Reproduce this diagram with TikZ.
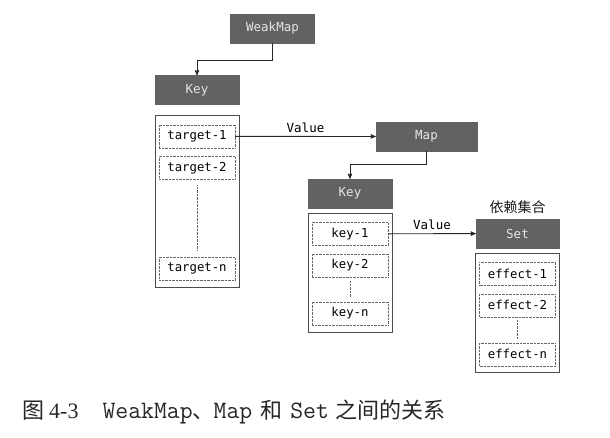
\documentclass[tikz,border=0pt]{standalone}
\usepackage{fontspec}
\usepackage{tikz}
\usetikzlibrary{
        arrows,
        positioning
    }
\newfontfamily\monofam{DejaVu Sans Mono}
\newfontfamily\capserif{Liberation Serif}
\newfontfamily\cjk{Noto Sans CJK SC}
\definecolor{boxgray}{RGB}{98,98,98}
\tikzset{>=stealth',auto,node distance=8pt}
\tikzset{head box/.style={draw=boxgray,fill=boxgray,text=white!90!black,minimum width=84pt,minimum height=29pt,inner sep=0pt,font=\monofam\fontsize{12.5pt}{14pt}\selectfont}}
\tikzset{list box/.style={draw=black!70,line width=0.8pt,minimum width=84pt,inner sep=0pt}}
\tikzset{item box/.style={draw=black!60,densely dotted,minimum width=76pt,minimum height=23pt,inner sep=0pt,text=black,font=\monofam\fontsize{12.3pt}{14pt}\selectfont}}
\tikzset{link/.style={->,draw=black!85,line width=0.9pt}}
\tikzset{gap/.style={draw=black!60,densely dotted}}

\begin{document}
\begin{tikzpicture}[x=1pt,y=1pt]
            \useasboundingbox (0,0) rectangle (610,-438);
            % WeakMap side
            \node[head box] (weakmap) at (272.5,-28.5) {WeakMap};
            \node[head box] (key) at (197,-90) {Key};
            \node[list box,minimum height=172pt] (targets) [below=10pt of key] {};
            \node[item box] (t1) [below=10pt of targets.north] {target-1};
            \node[item box] (t2) [below=of t1] {target-2};
            \node[item box] (tn) [above=7pt of targets.south] {target-n};
            % Map side
            \node[head box,minimum width=101pt] (map) at (426.5,-136.5) {Map};
            \node[head box] (mapkey) at (350,-193.5) {Key};
            \node[list box,minimum height=119pt] (keys) [below=5pt of mapkey] {};
            \node[item box] (k1) [below=9pt of keys.north] {key-1};
            \node[item box] (k2) [below=of k1] {key-2};
            \node[item box] (kn) [above=8pt of keys.south] {key-n};
            % Set side
            \node[head box,minimum width=83pt] (set) at (517.5,-233.5) {Set};
            \node[font=\cjk\fontsize{14pt}{16pt}\selectfont,text=black!90] (deps) [above=2pt of set] {依赖集合};
            \node[list box,minimum height=119pt] (effects) [below=5pt of set] {};
            \node[item box] (e1) [below=9pt of effects.north] {effect-1};
            \node[item box] (e2) [below=of e1] {effect-2};
            \node[item box] (en) [above=7pt of effects.south] {effect-n};
            % connectors
            \draw[link] (weakmap.south) -- ++(0,-17) -| (key.north);
            \draw[link] (map.south) -- ++(0,-13) -| (mapkey.north);
            \path[link,font=\monofam\fontsize{12.5pt}{14pt}\selectfont]
                (t1) edge node {Value} (map)
                (k1) edge node {Value} (set)
            ;
            \draw[gap,shorten <=6pt,shorten >=6pt] (t2) -- (tn);
            \draw[gap,shorten <=4pt,shorten >=4pt] (k2) -- (kn);
            \draw[gap,shorten <=3pt,shorten >=3pt] (e2) -- (en);
            % caption
            \node[anchor=west,inner sep=0pt,text=black!85,font=\fontsize{22pt}{26pt}\selectfont] (caption) at (22,-412)
                {{\cjk 图}\hspace{5pt}{\capserif 4-3}\hspace{24pt}{\ttfamily\fontsize{25pt}{26pt}\selectfont WeakMap}{\cjk 、}\hspace{-1pt}{\ttfamily\fontsize{25pt}{26pt}\selectfont Map}\hspace{8pt}{\cjk 和}\hspace{8pt}{\ttfamily\fontsize{25pt}{26pt}\selectfont Set}\hspace{7pt}{\cjk 之间的关系}};
\end{tikzpicture}
\end{document}
